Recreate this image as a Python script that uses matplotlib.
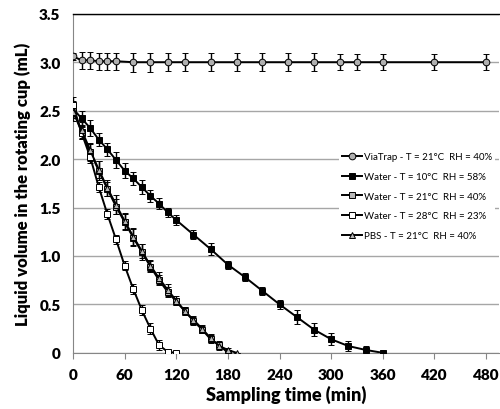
import matplotlib
matplotlib.use("Agg")
import matplotlib.pyplot as plt
from matplotlib.ticker import FixedLocator, FixedFormatter
from matplotlib.lines import Line2D

# ---- data ----
t_via = [0, 10, 20, 30, 40, 50, 70, 90, 110, 130, 160, 190, 220, 250, 280, 310, 330, 360, 420, 480]
v_via = [3.06, 3.02, 3.02, 3.01, 3.01, 3.01, 3.00, 3.00, 3.00, 3.00, 3.00, 3.00, 3.00, 3.00, 3.00, 3.00, 3.00, 3.00, 3.00, 3.00]
e_via = [0.04, 0.09, 0.09, 0.09, 0.09, 0.09, 0.10, 0.10, 0.09, 0.09, 0.09, 0.09, 0.09, 0.09, 0.09, 0.08, 0.08, 0.08, 0.08, 0.08]

t_w10 = [0, 10, 20, 30, 40, 50, 60, 70, 80, 90, 100, 110, 120, 140, 160, 180, 200, 220, 240, 260, 280, 300, 320, 340, 360]
v_w10 = [2.52, 2.42, 2.32, 2.20, 2.10, 1.99, 1.88, 1.80, 1.71, 1.62, 1.54, 1.45, 1.37, 1.22, 1.07, 0.91, 0.78, 0.64, 0.50, 0.37, 0.24, 0.14, 0.07, 0.03, 0.0]
e_w10 = [0.08, 0.08, 0.08, 0.07, 0.07, 0.08, 0.08, 0.07, 0.07, 0.06, 0.06, 0.05, 0.05, 0.05, 0.06, 0.04, 0.04, 0.04, 0.05, 0.07, 0.07, 0.06, 0.05, 0.04, 0.0]

t_w21 = [0, 10, 20, 30, 40, 50, 60, 70, 80, 90, 100, 110, 120, 130, 140, 150, 160, 170, 180]
v_w21 = [2.50, 2.28, 2.07, 1.88, 1.69, 1.51, 1.35, 1.19, 1.04, 0.89, 0.75, 0.63, 0.53, 0.43, 0.33, 0.24, 0.14, 0.08, 0.0]
e_w21 = [0.08, 0.07, 0.09, 0.10, 0.07, 0.08, 0.08, 0.09, 0.08, 0.06, 0.05, 0.05, 0.04, 0.04, 0.04, 0.04, 0.04, 0.04, 0.0]

t_w28 = [0, 10, 20, 30, 40, 50, 60, 70, 80, 90, 100, 110, 120]
v_w28 = [2.56, 2.27, 2.02, 1.71, 1.43, 1.17, 0.90, 0.66, 0.44, 0.25, 0.08, 0.01, 0.0]
e_w28 = [0.08, 0.06, 0.06, 0.05, 0.05, 0.05, 0.05, 0.05, 0.05, 0.06, 0.05, 0.0, 0.0]

t_pbs = [0, 10, 20, 30, 40, 50, 60, 70, 80, 90, 100, 110, 120, 130, 140, 150, 160, 170, 180, 190]
v_pbs = [2.49, 2.30, 2.09, 1.89, 1.70, 1.53, 1.36, 1.20, 1.05, 0.90, 0.77, 0.65, 0.54, 0.43, 0.34, 0.25, 0.15, 0.07, 0.03, 0.0]
e_pbs = [0.10, 0.08, 0.08, 0.09, 0.08, 0.10, 0.08, 0.09, 0.07, 0.06, 0.06, 0.06, 0.05, 0.04, 0.04, 0.04, 0.04, 0.04, 0.02, 0.0]

labels = ["ViaTrap - T = 21\u00b0C  RH = 40%",
          "Water - T = 10\u00b0C  RH = 58%",
          "Water - T = 21\u00b0C  RH = 40%",
          "Water - T = 28\u00b0C  RH = 23%",
          "PBS - T = 21\u00b0C  RH = 40%"]

x_ticks = [0, 60, 120, 180, 240, 300, 360, 420, 480]
y_ticks = [0, 0.5, 1.0, 1.5, 2.0, 2.5, 3.0, 3.5]
y_tick_labels = ["0", "0.5", "1.0", "1.5", "2.0", "2.5", "3.0", "3.5"]

plt.rcParams['font.family'] = ['Lato', 'DejaVu Sans']

fig = plt.figure(figsize=(5.0, 4.1), dpi=100)
ax = fig.add_axes([0.146, 0.137, 0.852, 0.827])

series = [
    (t_via, v_via, e_via, 'o', '#b0b0b0', 4.8),
    (t_w10, v_w10, e_w10, 's', 'black', 4.4),
    (t_w21, v_w21, e_w21, 's', '#b8b8b8', 4.4),
    (t_w28, v_w28, e_w28, 's', 'white', 4.4),
    (t_pbs, v_pbs, e_pbs, '^', '#b8b8b8', 4.8),
]
handles = []
for (t, v, e, m, fc, ms), lab in zip(series, labels):
    style = dict(color='black', lw=1.4, marker=m, markersize=ms, markerfacecolor=fc,
                 markeredgecolor='black', markeredgewidth=0.7)
    ax.errorbar(t, v, yerr=e, fmt='-', ecolor='black', elinewidth=1.0,
                capsize=2.0, capthick=1.0, zorder=3, **style)
    handles.append(Line2D([], [], **style))

ax.set_xlim(0, 495)
ax.set_ylim(0, 3.5)
ax.xaxis.set_major_locator(FixedLocator(x_ticks))
ax.yaxis.set_major_locator(FixedLocator(y_ticks))
ax.yaxis.set_major_formatter(FixedFormatter(y_tick_labels))
ax.grid(axis='y', color='#a6a6a6', lw=1.0, zorder=0)
ax.set_axisbelow(True)

ax.spines['right'].set_visible(False)
ax.spines['top'].set_color('black')
ax.spines['top'].set_linewidth(1.0)
ax.spines['left'].set_color('#868686')
ax.spines['bottom'].set_color('#868686')
ax.tick_params(axis='x', direction='out', length=4, color='#868686', labelsize=11, pad=7)
ax.tick_params(axis='y', length=0, labelsize=11, pad=9)
for lab in ax.get_xticklabels() + ax.get_yticklabels():
    lab.set_fontweight('heavy')

ax.set_xlabel("Sampling time (min)", fontsize=13, fontweight='heavy', labelpad=3)
ax.set_ylabel("Liquid volume in the rotating cup (mL)", fontsize=12, fontweight='heavy', labelpad=6)

leg = ax.legend(handles=handles, labels=labels, loc='upper left',
                bbox_to_anchor=(0.625, 0.60), fontsize=7, frameon=True,
                handlelength=2.0, handletextpad=0.2, labelspacing=1.1,
                borderpad=0.3, borderaxespad=0)
leg.get_frame().set_edgecolor('none')
leg.get_frame().set_facecolor('white')
leg.get_frame().set_alpha(1.0)

fig.savefig("out.png", dpi=100)
